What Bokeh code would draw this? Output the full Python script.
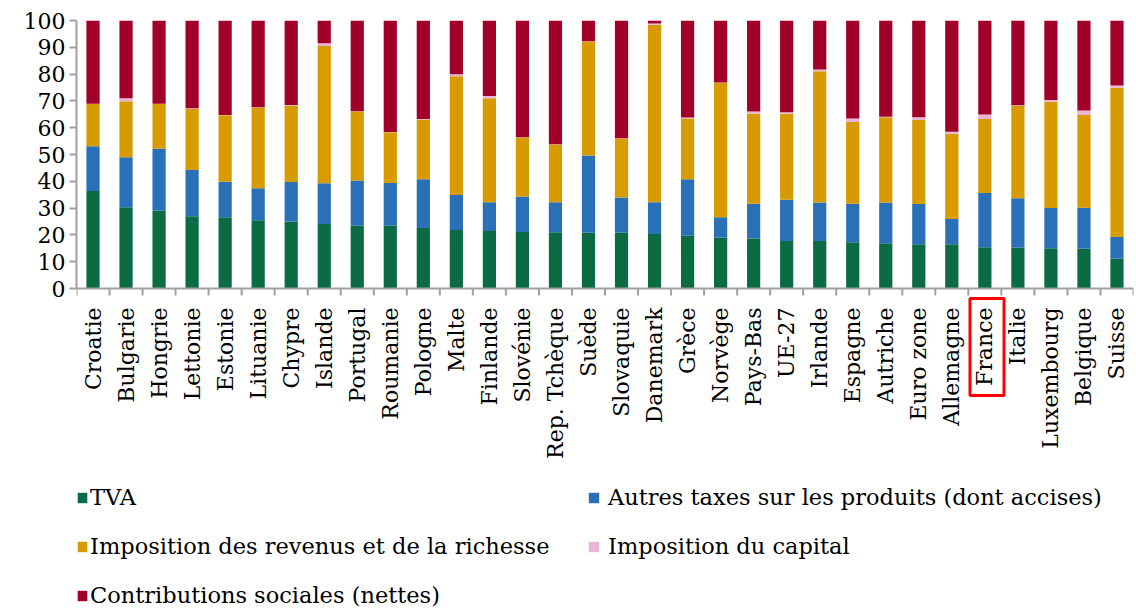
import math
from bokeh.plotting import figure
from bokeh.models import (ColumnDataSource, FixedTicker, Legend, LegendItem, Range1d)
from bokeh.core.properties import value
from bokeh.embed import file_html
from bokeh.resources import INLINE

countries = ["Croatie", "Bulgarie", "Hongrie", "Lettonie", "Estonie", "Lituanie",
             "Chypre", "Islande", "Portugal", "Roumanie", "Pologne", "Malte",
             "Finlande", "Slovénie", "Rep. Tchèque", "Suède", "Slovaquie",
             "Danemark", "Grèce", "Norvège", "Pays-Bas", "UE-27", "Irlande",
             "Espagne", "Autriche", "Euro zone", "Allemagne", "France", "Italie",
             "Luxembourg", "Belgique", "Suisse"]

tva = [36.4, 30.3, 29.0, 27.0, 26.6, 25.5, 25.0, 24.1, 23.4, 23.4, 22.6, 21.8,
       21.5, 21.1, 21.0, 20.8, 20.8, 20.3, 19.7, 19.0, 18.7, 17.7, 17.7, 17.3,
       16.9, 16.5, 16.5, 15.4, 15.3, 15.0, 14.8, 11.1]
autres = [16.7, 18.7, 23.1, 17.2, 13.2, 11.9, 14.7, 15.2, 16.9, 16.0, 18.2, 13.1,
          10.7, 13.2, 11.2, 28.8, 13.2, 11.9, 21.1, 7.6, 12.9, 15.4, 14.4, 14.3,
          15.2, 15.0, 9.4, 20.2, 18.4, 15.0, 15.3, 8.1]
revenus = [15.7, 20.9, 16.7, 22.8, 24.8, 30.1, 28.6, 51.2, 25.7, 18.9, 22.3, 44.3,
           38.8, 22.0, 21.5, 42.6, 22.0, 66.2, 22.6, 50.1, 33.6, 32.1, 49.0, 30.5,
           31.8, 31.4, 31.8, 27.6, 34.5, 39.7, 34.6, 55.7]
capital = [0.1, 1.1, 0.1, 0.3, 0.1, 0.1, 0.2, 1.0, 0.1, 0.1, 0.1, 0.7,
           0.8, 0.1, 0.1, 0.1, 0.1, 0.5, 0.4, 0.2, 0.8, 0.6, 0.6, 1.3,
           0.2, 1.0, 0.8, 1.7, 0.2, 0.6, 1.7, 0.8]
contrib = [31.1, 29.0, 31.1, 32.7, 35.3, 32.4, 31.5, 8.5, 33.9, 41.6, 36.8, 20.1,
           28.2, 43.6, 46.2, 7.7, 43.9, 1.1, 36.2, 23.1, 34.0, 34.2, 18.3, 36.6,
           35.9, 36.1, 41.5, 35.1, 31.6, 29.7, 33.6, 24.3]

series = ["tva", "autres", "revenus", "capital", "contrib"]
labels = ["TVA", "Autres taxes sur les produits (dont accises)",
          "Imposition des revenus et de la richesse", "Imposition du capital",
          "Contributions sociales (nettes)"]
colors = ["#0B6B44", "#2970B6", "#D79B00", "#E9B5D4", "#A10028"]
yticks = [0, 10, 20, 30, 40, 50, 60, 70, 80, 90, 100]
highlight = "France"

FONT = "DejaVu Serif"
AXIS_COLOR = "#A0A0A0"
W, H = 1136, 608
TOP, LEFT, RIGHT = 20, 76, 3
ZERO_PX = 288                      # pixel row of the value 0
PX_PER_UNIT = (ZERO_PX - TOP) / 100.0
ymin = -(H - ZERO_PX) / PX_PER_UNIT

n = len(countries)
xpos = [i + 0.5 for i in range(n)]

source = ColumnDataSource(dict(x=xpos, tva=tva, autres=autres, revenus=revenus,
                               capital=capital, contrib=contrib))

p = figure(width=W, height=H, x_range=Range1d(0, n), y_range=Range1d(ymin, 100),
           output_backend="svg", toolbar_location=None, x_axis_location=None,
           min_border_left=LEFT, min_border_right=RIGHT, min_border_top=TOP,
           min_border_bottom=0)
p.outline_line_color = None
p.xgrid.grid_line_color = None
p.ygrid.grid_line_color = None

renderers = p.vbar_stack(series, x="x", width=0.4, source=source,
                         color=colors, line_color=None)

# value axis limited to 0..100
ya = p.yaxis[0]
ya.ticker = FixedTicker(ticks=yticks)
ya.bounds = (0, 100)
ya.major_tick_out = 7
ya.major_tick_in = 0
ya.minor_tick_line_color = None
ya.major_tick_line_color = AXIS_COLOR
ya.major_tick_line_width = 2
ya.axis_line_color = AXIS_COLOR
ya.axis_line_width = 2
ya.major_label_standoff = 4
ya.major_label_text_font = FONT
ya.major_label_text_font_size = "22px"
ya.major_label_text_color = "black"

# category axis: baseline, boundary ticks and vertical labels
tick_len = 7 / PX_PER_UNIT
p.segment(x0=[0], y0=[0], x1=[n], y1=[0], line_color=AXIS_COLOR, line_width=2)
p.segment(x0=list(range(n + 1)), y0=[0] * (n + 1), x1=list(range(n + 1)),
          y1=[-tick_len] * (n + 1), line_color=AXIS_COLOR, line_width=2)
p.text(x=xpos, y=[-19 / PX_PER_UNIT] * n, text=countries, angle=math.pi / 2,
       text_align="right", text_baseline="middle", text_font=value(FONT),
       text_font_size="22px", text_color="black")

# red box around the highlighted label
hi = countries.index(highlight)
p.quad(left=[hi + 0.05], right=[hi + 1.08], top=[-10 / PX_PER_UNIT],
       bottom=[-107 / PX_PER_UNIT], fill_alpha=0, line_color="#FF0000",
       line_width=3)


def make_legend(idx, loc, gw, standoff):
    return Legend(items=[LegendItem(label=labels[i], renderers=[renderers[i]]) for i in idx],
                  location=loc, orientation="vertical",
                  glyph_width=gw, glyph_height=13, label_standoff=standoff,
                  label_height=26, spacing=23, padding=0, margin=0,
                  border_line_color=None, background_fill_alpha=0,
                  label_text_font=FONT, label_text_font_size="22.5px",
                  label_text_color="black")


p.add_layout(make_legend([0, 2, 4], (0, 0), 12, 2))
p.add_layout(make_legend([1, 3], (587 - LEFT, 49), 13, 8))

open("out.html", "w").write(file_html(p, INLINE))
